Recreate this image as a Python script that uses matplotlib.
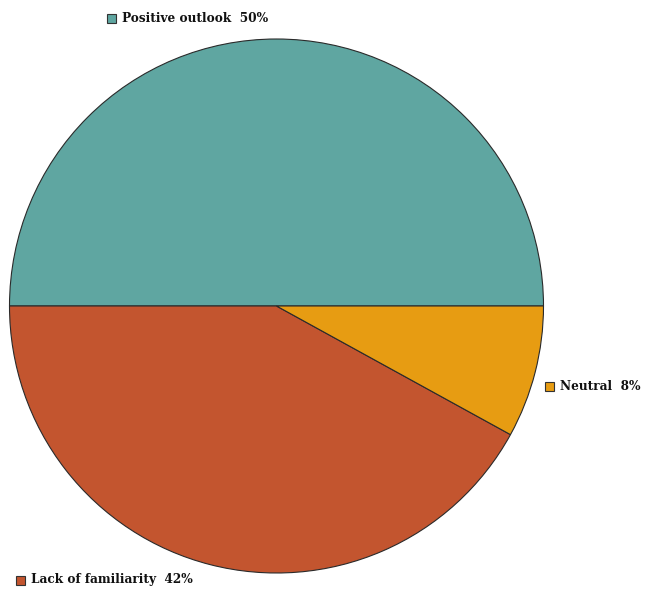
import matplotlib
matplotlib.use("Agg")
import matplotlib.pyplot as plt
from matplotlib.patches import Rectangle

labels = ["Positive outlook", "Lack of familiarity", "Neutral"]
values = [50, 42, 8]
colors = ["#5fa6a1", "#c3552f", "#e79c12"]

fig = plt.figure(figsize=(6.45, 5.92), dpi=100)
ax = fig.add_axes([0, 0, 1, 1])
ax.set_xlim(0, 645)
ax.set_ylim(0, 592)
ax.set_aspect("equal")
ax.axis("off")

ax.pie(values, colors=colors, startangle=0, counterclock=True,
       center=(276.5, 286), radius=267,
       wedgeprops=dict(edgecolor="#2a2a2a", linewidth=0.8))
ax.set_xlim(0, 645)
ax.set_ylim(0, 592)

# legend-style labels next to their slices
label_pos = [(111, 574), (20, 12), (549, 206)]
for lab, val, col, (x, y) in zip(labels, values, colors, label_pos):
    ax.add_patch(Rectangle((x - 4.5, y - 4.5), 9, 9, facecolor=col,
                           edgecolor="#333333", linewidth=0.8))
    ax.text(x + 11, y, f"{lab}  {val}%", va="center", ha="left",
            fontsize=8.7, fontweight="bold", family="DejaVu Serif",
            color="#111111")

fig.savefig("out.png", dpi=100)
